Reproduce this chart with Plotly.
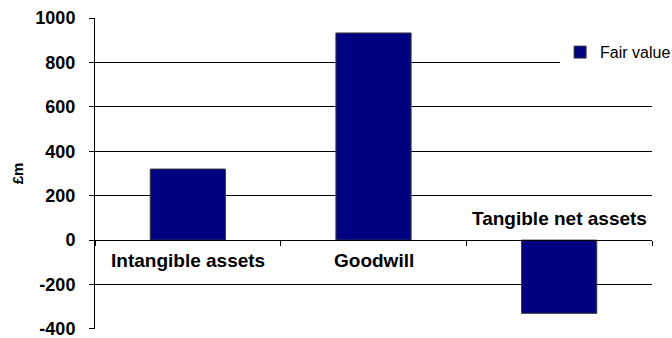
import plotly.graph_objects as go

# Acquisition fair value breakdown
categories = ["Intangible assets", "Goodwill", "Tangible net assets"]
fair_value = [320, 933, -330]
series_name = "Fair value"
y_ticks = [-400, -200, 0, 200, 400, 600, 800, 1000]
y_tick_text = ["-400", "-200", "0", "200", "400", "600", "800", "1000"]

y_min, y_max = -400, 1000
font_family = "Liberation Sans, Arial, sans-serif"

fig = go.Figure()
fig.add_trace(go.Bar(
    x=categories,
    y=fair_value,
    name=series_name,
    marker=dict(color="#000080", line=dict(color="#3a3a3a", width=1)),
    showlegend=True,
))

# Category labels sit next to the zero axis: below for positive bars, above for negative
for cat, val in zip(categories, fair_value):
    fig.add_annotation(
        x=cat, y=0, xref="x", yref="y",
        text=f"<b>{cat}</b>",
        showarrow=False,
        yanchor="top" if val >= 0 else "bottom",
        yshift=-8 if val >= 0 else 9,
        font=dict(family=font_family, size=19, color="#000000"),
    )

fig.update_layout(
    width=672, height=338,
    margin=dict(l=95, r=20, t=18, b=9, autoexpand=False),
    paper_bgcolor="white",
    plot_bgcolor="white",
    bargap=0.595,
    font=dict(family=font_family, color="#000000"),
    legend=dict(
        x=0.835, y=0.89, xanchor="left", yanchor="middle",
        bgcolor="white",
        font=dict(family=font_family, size=16, color="#000000"),
        itemwidth=30,
    ),
    xaxis=dict(
        type="category",
        anchor="free",
        position=(0 - y_min) / (y_max - y_min),
        showline=True, linecolor="#000000", linewidth=1,
        ticks="outside", tickson="boundaries", ticklen=5, tickcolor="#000000",
        showticklabels=False,
        showgrid=False,
        zeroline=False,
        automargin=False,
    ),
    yaxis=dict(
        range=[y_min - 0.5, y_max + 0.5],
        tickvals=y_ticks,
        ticktext=y_tick_text,
        showline=True, linecolor="#000000", linewidth=1,
        ticks="outside", ticklen=5, tickcolor="#000000",
        ticklabelstandoff=10,
        ticklabeloverflow="allow",
        tickfont=dict(family=font_family, size=18, color="#000000", weight="bold"),
        showgrid=True, gridcolor="#000000", gridwidth=1,
        zeroline=False,
        automargin=False,
        title=dict(text="<b>£m</b>", standoff=8,
                   font=dict(family=font_family, size=15, color="#000000")),
    ),
)

fig.write_html("out.html")
